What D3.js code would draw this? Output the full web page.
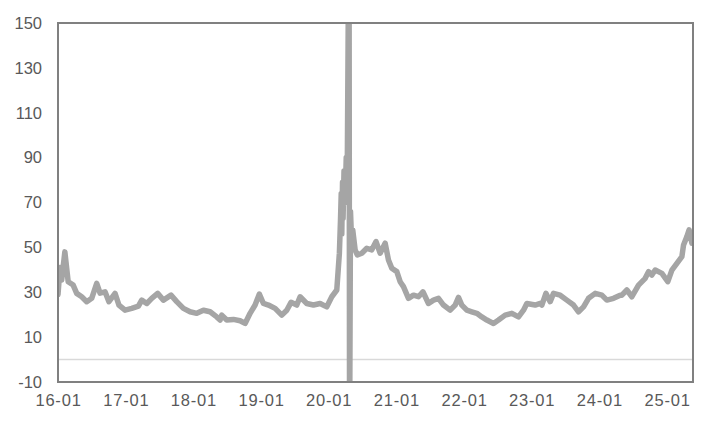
<!DOCTYPE html>
<html>
<head>
<meta charset="utf-8">
<script src="https://cdn.jsdelivr.net/npm/d3@7"></script>
<style>
  html, body { margin: 0; padding: 0; background: #fff; }
  svg { display: block; }
  text { font-family: "Liberation Sans", Arial, sans-serif; fill: #595959; }
</style>
</head>
<body>
<svg id="chart" width="716" height="427"></svg>
<script>
// ---- data ----
const dates = [
  "2016-01-01","2016-01-12","2016-01-21","2016-02-07","2016-02-25","2016-03-23","2016-04-11","2016-05-08",
  "2016-06-04","2016-07-01","2016-07-28","2016-08-15","2016-09-11","2016-10-02","2016-11-04","2016-11-25",
  "2016-12-28","2017-02-02","2017-03-10","2017-03-28","2017-04-24","2017-05-21","2017-06-22","2017-07-23",
  "2017-09-02","2017-10-03","2017-11-08","2017-12-14","2018-01-19","2018-02-24","2018-04-01","2018-05-07",
  "2018-05-25","2018-06-03","2018-06-30","2018-08-05","2018-09-10","2018-10-07","2018-11-03","2018-11-30",
  "2018-12-23","2019-01-14","2019-02-10","2019-03-18","2019-04-23","2019-05-20","2019-06-12","2019-07-13",
  "2019-07-31","2019-09-05","2019-10-11","2019-11-16","2019-12-22","2020-01-18","2020-02-14","2020-02-28",
  "2020-03-05","2020-03-09","2020-03-12","2020-03-16","2020-03-19","2020-03-24","2020-03-30","2020-04-05",
  "2020-04-10","2020-04-15","2020-04-20","2020-04-23","2020-04-28","2020-05-03","2020-05-10",
  "2020-05-23","2020-06-04","2020-06-28","2020-07-25","2020-08-21","2020-09-13","2020-10-05","2020-11-01",
  "2020-11-19","2020-12-07","2021-01-03","2021-01-21","2021-02-08","2021-03-07","2021-04-03","2021-04-30",
  "2021-05-24","2021-06-23","2021-07-20","2021-08-16","2021-09-12","2021-10-18","2021-11-14","2021-12-02",
  "2021-12-20","2022-01-16","2022-02-12","2022-03-11","2022-04-07","2022-05-04","2022-06-09","2022-07-06",
  "2022-08-11","2022-09-16","2022-10-22","2022-11-18","2022-12-06","2023-01-20","2023-02-16","2023-02-25",
  "2023-03-19","2023-04-11","2023-04-29","2023-06-04","2023-07-10","2023-08-15","2023-09-11","2023-10-08",
  "2023-11-04","2023-12-10","2024-01-15","2024-02-11","2024-03-18","2024-04-23","2024-05-02","2024-05-29",
  "2024-06-25","2024-07-31","2024-09-05","2024-09-23","2024-10-11","2024-10-29","2024-12-04","2025-01-05",
  "2025-01-27","2025-02-23","2025-03-22","2025-03-31","2025-04-18","2025-04-30","2025-05-15"
];
const values = [
  29,41,35.5,48,34.7,33.2,29.5,28,
  25.8,27.3,34,29.6,30.2,25.8,29.5,24.3,
  22,22.8,23.8,26.5,25,27.3,29.5,26.5,
  28.7,25.8,22.8,21.3,20.6,22,21.3,19,
  17.6,19.8,17.6,17.9,17.3,16.1,20.6,24.3,
  29.2,25,24.3,22.8,19.8,22,25.5,24.3,
  28,25,24.3,25,23.5,28,31,47.4,
  62,74,56,79,63,84,70,90,
  76,140,210,-40,66,55,57.8,
  48.9,46.6,47.4,49.6,48.9,52.6,47.4,51.9,
  44.4,40.7,39.2,34.7,32.5,27.3,28.7,28,
  30.2,25,26.5,27.3,24.3,22,24.3,27.7,
  24.3,22,21.3,20.6,19,17.6,16.1,17.6,
  19.8,20.6,19,22,25,24.3,25,24.3,
  29.5,25.8,29.5,28.7,26.5,24.3,21.3,23.5,
  27.3,29.5,28.7,26.5,27.3,28.7,28.7,31,
  28,33.2,36.2,39.2,37.7,39.9,38.4,34.7,
  39.9,42.9,45.9,51.1,54.8,57.8,51.9
];
const yTicks = [-10, 10, 30, 50, 70, 90, 110, 130, 150];
const xTickDates = ["2016-01-01","2017-01-01","2018-01-01","2019-01-01","2020-01-01",
                    "2021-01-01","2022-01-01","2023-01-01","2024-01-01","2025-01-01"];
const xTickLabels = ["16-01","17-01","18-01","19-01","20-01","21-01","22-01","23-01","24-01","25-01"];
const domainStart = "2016-01-01";
const domainEnd = "2025-05-21";

// ---- layout ----
const mLeft = 58, mRight = 693, mTop = 23, mBottom = 382;
const parse = d3.timeParse("%Y-%m-%d");
const svg = d3.select("#chart");

const x = d3.scaleTime().domain([parse(domainStart), parse(domainEnd)]).range([mLeft, mRight]);
const y = d3.scaleLinear().domain([-10, 150]).range([mBottom, mTop]);

const data = dates.map((d, i) => ({ date: parse(d), value: values[i] }));

svg.append("defs").append("clipPath").attr("id", "plotclip")
  .append("rect").attr("x", mLeft).attr("y", mTop).attr("width", mRight - mLeft).attr("height", mBottom - mTop);

// zero line
svg.append("line")
  .attr("x1", mLeft).attr("x2", mRight)
  .attr("y1", y(0)).attr("y2", y(0))
  .attr("stroke", "#d9d9d9").attr("stroke-width", 1.5);

// series
svg.append("path")
  .datum(data)
  .attr("clip-path", "url(#plotclip)")
  .attr("fill", "none")
  .attr("stroke", "#a5a5a5")
  .attr("stroke-width", 5.5)
  .attr("stroke-linejoin", "round")
  .attr("stroke-linecap", "round")
  .attr("d", d3.line().x(d => x(d.date)).y(d => y(d.value)));

// frame
svg.append("rect")
  .attr("x", mLeft).attr("y", mTop).attr("width", mRight - mLeft).attr("height", mBottom - mTop)
  .attr("fill", "none").attr("stroke", "#808080").attr("stroke-width", 2);

// y axis
const yAxis = d3.axisLeft(y).tickValues(yTicks).tickSize(0).tickPadding(16)
  .tickFormat(d => String(d));
const gy = svg.append("g").attr("transform", `translate(${mLeft},0)`).call(yAxis);
gy.select(".domain").remove();
gy.selectAll("text").style("font-size", "16.5px").style("fill", "#595959")
  .style("font-family", "'Liberation Sans', Arial, sans-serif");

// x axis
const xAxis = d3.axisBottom(x).tickValues(xTickDates.map(parse)).tickSize(0).tickPadding(12)
  .tickFormat((d, i) => xTickLabels[i]);
const gx = svg.append("g").attr("transform", `translate(0,${mBottom})`).call(xAxis);
gx.select(".domain").remove();
gx.selectAll("text").style("font-size", "16.5px").style("fill", "#595959")
  .style("letter-spacing", "0.8px")
  .style("font-family", "'Liberation Sans', Arial, sans-serif");
</script>
</body>
</html>
